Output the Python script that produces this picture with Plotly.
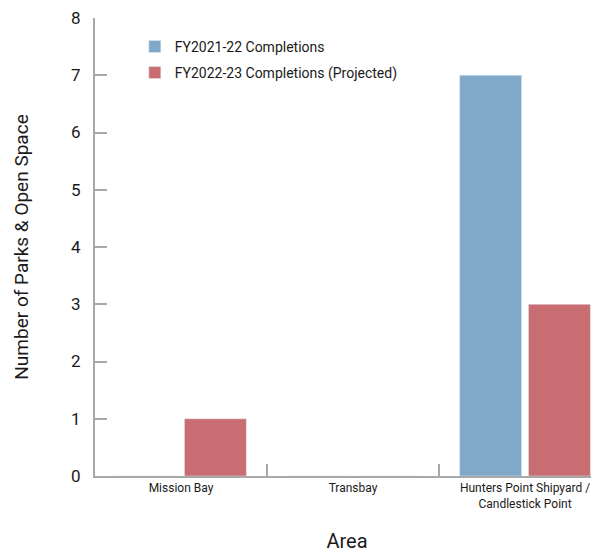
import plotly.graph_objects as go

areas = ["Mission Bay", "Transbay", "Hunters Point Shipyard /<br>Candlestick Point"]
fy2122 = [0, 0, 7]
fy2223 = [1, 0, 3]

FONT = "Roboto, Liberation Sans, sans-serif"
INK = "#1a1a1a"
AXIS = "#a8a8a8"

fig = go.Figure()

fig.add_trace(
    go.Bar(
        x=areas,
        y=fy2122,
        name="FY2021-22 Completions",
        legendgroup="a",
        marker=dict(color="#7fa8c9")
    )
)

fig.add_trace(
    go.Bar(
        x=areas,
        y=fy2223,
        name="FY2022-23 Completions (Projected)",
        legendgroup="b",
        marker=dict(color="#c86d72")
    )
)

# the page body adds an 8px margin, so the figure is shrunk by that much
fig.update_layout(
    width=591,
    height=546,
    margin=dict(l=87, r=0, t=10, b=78),
    plot_bgcolor="white",
    paper_bgcolor="white",
    font=dict(family=FONT, color=INK),
    barmode="group",
    bargap=0.2,
    bargroupgap=0.1,
    showlegend=True,
    legend=dict(
        x=0.079,
        y=0.972,
        xanchor="left",
        yanchor="top",
        font=dict(size=14),
        bgcolor="rgba(0,0,0,0)",
        traceorder="grouped",
        tracegroupgap=5
    )
)

fig.update_xaxes(
    range=[-0.5, 2.43],
    automargin=False,
    showline=True,
    linecolor=AXIS,
    linewidth=2,
    ticks="inside",
    tickson="boundaries",
    ticklen=12,
    tickcolor=AXIS,
    tickwidth=2,
    tickfont=dict(size=12),
    showgrid=False,
    title=dict(text="Area", font=dict(size=20), standoff=24)
)

fig.update_yaxes(
    range=[0, 8],
    dtick=1,
    automargin=False,
    showline=True,
    linecolor=AXIS,
    linewidth=2,
    ticks="inside",
    ticklen=12,
    tickcolor=AXIS,
    tickwidth=2,
    tickfont=dict(size=17),
    ticklabelstandoff=9,
    ticklabeloverflow="allow",
    showgrid=False,
    zeroline=False,
    title=dict(text="Number of Parks & Open Space", font=dict(size=19), standoff=37)
)

fig.write_html("out.html")
